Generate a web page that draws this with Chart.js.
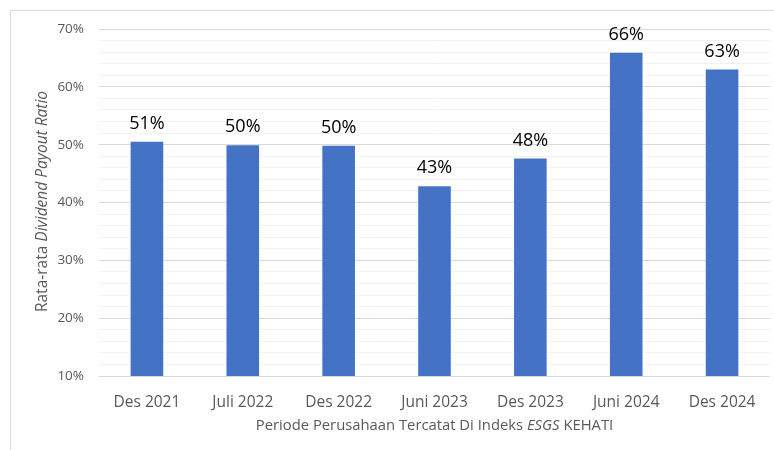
<!DOCTYPE html>
<html>
<head>
<meta charset="utf-8">
<script src="https://cdn.jsdelivr.net/npm/chart.js@4.4.1/dist/chart.umd.min.js"></script>
<style>
  html, body { margin: 0; padding: 0; background: #fff; }
  #frame { position: absolute; left: 10px; top: 10px; width: 800px; height: 500px;
           border-left: 1px solid #d9d9d9; border-top: 1px solid #d9d9d9; }
  #wrap { position: absolute; left: 0; top: 0; width: 774px; height: 450px; }
</style>
</head>
<body>
<div id="frame"></div>
<div id="wrap"><canvas id="c" width="774" height="450"></canvas></div>
<script>
const categories = ['Des 2021', 'Juli 2022', 'Des 2022', 'Juni 2023', 'Des 2023', 'Juni 2024', 'Des 2024'];
const payoutRatio = [50.5, 49.9, 49.8, 42.8, 47.6, 65.9, 63.0];
const yMin = 10, yMax = 70, yMinorStep = 2, yMajorStep = 10;
const xTitleParts = [['Periode Perusahaan Tercatat Di Indeks ', false], ['ESGS', true], [' KEHATI', false]];
const yTitleParts = [['Rata-rata ', false], ['Dividend Payout Ratio', true]];

const FONT = '"Open Sans", "Noto Sans", sans-serif';
const GRAY = '#595959';

function drawParts(ctx, parts, size, cx, cy) {
  let total = 0;
  const widths = parts.map(([t, it]) => {
    ctx.font = (it ? 'italic ' : '') + size + 'px ' + FONT;
    const w = ctx.measureText(t).width; total += w; return w;
  });
  let x = cx - total / 2;
  ctx.textBaseline = 'middle';
  ctx.textAlign = 'left';
  parts.forEach(([t, it], i) => {
    ctx.font = (it ? 'italic ' : '') + size + 'px ' + FONT;
    ctx.fillText(t, x, cy);
    x += widths[i];
  });
}

const extras = {
  id: 'extras',
  afterDatasetsDraw(chart) {
    const ctx = chart.ctx;
    const area = chart.chartArea;
    ctx.save();
    ctx.fillStyle = '#000';
    ctx.font = '18px ' + FONT;
    ctx.textAlign = 'center';
    ctx.textBaseline = 'bottom';
    const meta = chart.getDatasetMeta(0);
    meta.data.forEach((bar, i) => {
      ctx.fillText(Math.round(payoutRatio[i]) + '%', bar.x, bar.y - 9);
    });
    ctx.fillStyle = GRAY;
    drawParts(ctx, xTitleParts, 14.8, (area.left + area.right) / 2, 426);
    ctx.translate(42.5, 201.5);
    ctx.rotate(-Math.PI / 2);
    drawParts(ctx, yTitleParts, 15.5, 0, 0);
    ctx.restore();
  }
};

new Chart(document.getElementById('c'), {
  type: 'bar',
  data: {
    labels: categories,
    datasets: [{
      data: payoutRatio,
      backgroundColor: '#4472C4',
      borderWidth: 0,
      barPercentage: 0.34,
      categoryPercentage: 1
    }]
  },
  options: {
    responsive: false,
    animation: false,
    layout: { padding: { top: 29, right: 4, left: 0, bottom: 0 } },
    plugins: { legend: { display: false }, tooltip: { enabled: false } },
    scales: {
      x: {
        grid: { display: false },
        border: { display: false },
        ticks: { color: GRAY, font: { family: FONT, size: 15.5 }, padding: 9, maxRotation: 0 },
        afterFit(s) { s.height = 74; }
      },
      y: {
        min: yMin, max: yMax,
        grid: {
          drawTicks: false,
          color: ctx => (ctx.tick && ctx.tick.value % yMajorStep === 0) ? '#d9d9d9' : '#f2f2f2',
          lineWidth: 1
        },
        border: { display: false },
        ticks: {
          stepSize: yMinorStep,
          autoSkip: false,
          color: GRAY,
          font: { family: FONT, size: 13.5 },
          padding: 15,
          callback: v => (v % yMajorStep === 0) ? v + '%' : ''
        },
        afterFit(s) { s.width = 99; }
      }
    }
  },
  plugins: [extras]
});
</script>
</body>
</html>
